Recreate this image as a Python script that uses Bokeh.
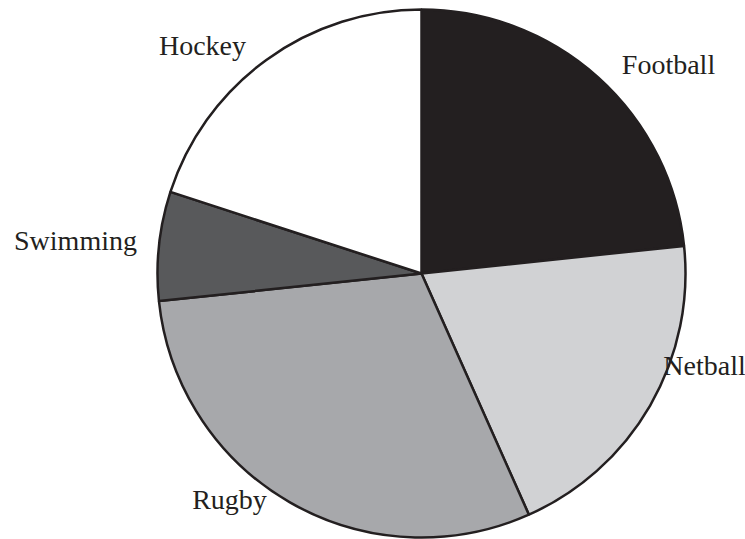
import math
from bokeh.plotting import figure
from bokeh.models import Range1d, ColumnDataSource
from bokeh.core.properties import value
from bokeh.embed import file_html
from bokeh.resources import INLINE

# ---- data ----
sports = ["Football", "Netball", "Rugby", "Swimming", "Hockey"]
counts = [70, 60, 90, 20, 60]
colors = ["#231f20", "#d1d2d4", "#a7a8ab", "#58595b", "#ffffff"]

# ---- layout ----
W, H = 745, 539
cx, cy, R = 421, 266, 264
# label centre offsets from pie centre (pixels)
label_dx = [247, 283, -192, -346, -219]
label_dy = [209, -92, -226, 33, 228]

total = sum(counts)
starts, ends = [], []
a = math.pi / 2
for c in counts:
    span = 2 * math.pi * c / total
    starts.append(a)
    ends.append(a - span)
    a -= span

src = ColumnDataSource(dict(sport=sports, start=starts, end=ends, color=colors,
                            x=[cx] * len(sports), y=[cy] * len(sports)))

p = figure(width=W, height=H, output_backend="svg", toolbar_location=None,
           x_range=Range1d(0, W), y_range=Range1d(0, H), min_border=0,
           outline_line_color=None)
p.axis.visible = False
p.grid.visible = False
p.background_fill_color = "white"
p.border_fill_color = "white"

p.wedge(x="x", y="y", radius=R, start_angle="start", end_angle="end",
        direction="clock", fill_color="color", line_color="#231f20",
        line_width=2.5, source=src)

lsrc = ColumnDataSource(dict(x=[cx + d for d in label_dx],
                             y=[cy + d for d in label_dy], text=sports))
p.text(x="x", y="y", text="text", source=lsrc, text_font=value("Liberation Serif"),
       text_font_size="28px", text_align="center", text_baseline="middle",
       text_color="#231f20")

open("out.html", "w").write(file_html(p, INLINE))
